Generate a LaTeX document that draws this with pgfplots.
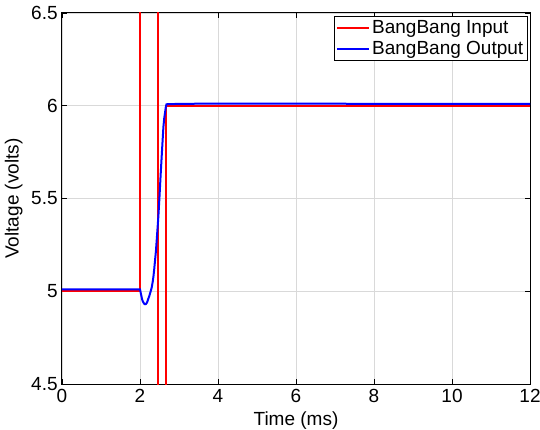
\documentclass[border=0pt]{standalone}
\usepackage{fontspec}
\setmainfont{Liberation Sans}
\usepackage{pgfplots}
\pgfplotsset{compat=1.18}
\usetikzlibrary{calc}
\begin{document}
\fontsize{18.5}{22}\selectfont
\begin{tikzpicture}
\begin{axis}[
  scale only axis,
  width=468pt, height=371pt,
  xmin=0, xmax=12, ymin=4.5, ymax=6.5,
  xtick={0,2,...,12}, ytick={4.5,5,5.5,6,6.5},
  /pgf/number format/assume math mode=true,
  /pgf/number format/fixed,
  ticklabel style={font=\fontsize{19}{22}\selectfont},
  label style={font=\fontsize{19}{22}\selectfont},
  xlabel={Time (ms)}, ylabel={Voltage (volts)},
  xlabel style={yshift=4pt},
  ylabel style={yshift=-4pt},
  grid=major,
  major grid style={gray!30, line width=0.6pt},
  tick align=inside,
  major tick length=5pt,
  tick style={black, line width=0.6pt},
  axis line style={black, line width=1pt},
  xticklabel style={yshift=1pt},
  yticklabel style={xshift=2pt},
  legend style={at={(0.995,0.993)}, anchor=north east, draw=black, line width=0.8pt,
    font=\fontsize{19}{22}\selectfont, inner sep=2pt, row sep=1pt},
  legend cell align=left,
  legend image code/.code={\draw[line width=1.5pt] (0pt,0pt) -- (32pt,0pt);},
]
\addplot[red, line width=2pt] coordinates {
(0,5) (2,5) (2,7) (2.47,7) (2.47,4) (2.665,4) (2.665,6) (12,6)};
\addlegendentry{BangBang Input}
\addplot[blue, line width=2pt] coordinates {
(0,5.01) (2,5.01) (2.02,4.99) (2.04,4.97) (2.06,4.952) (2.085,4.94) (2.11,4.932) (2.13,4.93) (2.15,4.931) (2.17,4.936) (2.19,4.945) (2.21,4.958) (2.235,4.972) (2.26,4.99) (2.28,5.004) (2.30,5.02) (2.325,5.05) (2.345,5.08) (2.365,5.12) (2.385,5.165) (2.41,5.22) (2.43,5.28) (2.45,5.34) (2.47,5.40) (2.50,5.51) (2.53,5.63) (2.565,5.76) (2.60,5.885) (2.62,5.93) (2.64,5.96) (2.66,5.99) (2.68,6.008) (2.8,6.009) (3,6.01) (4,6.012) (6,6.011) (12,6.01)};
\addlegendentry{BangBang Output}
\end{axis}
\pgfresetboundingbox
\useasboundingbox ($(current axis.south west)+(-62pt,-45pt)$) rectangle ($(current axis.north east)+(10pt,13pt)$);
\end{tikzpicture}
\end{document}
